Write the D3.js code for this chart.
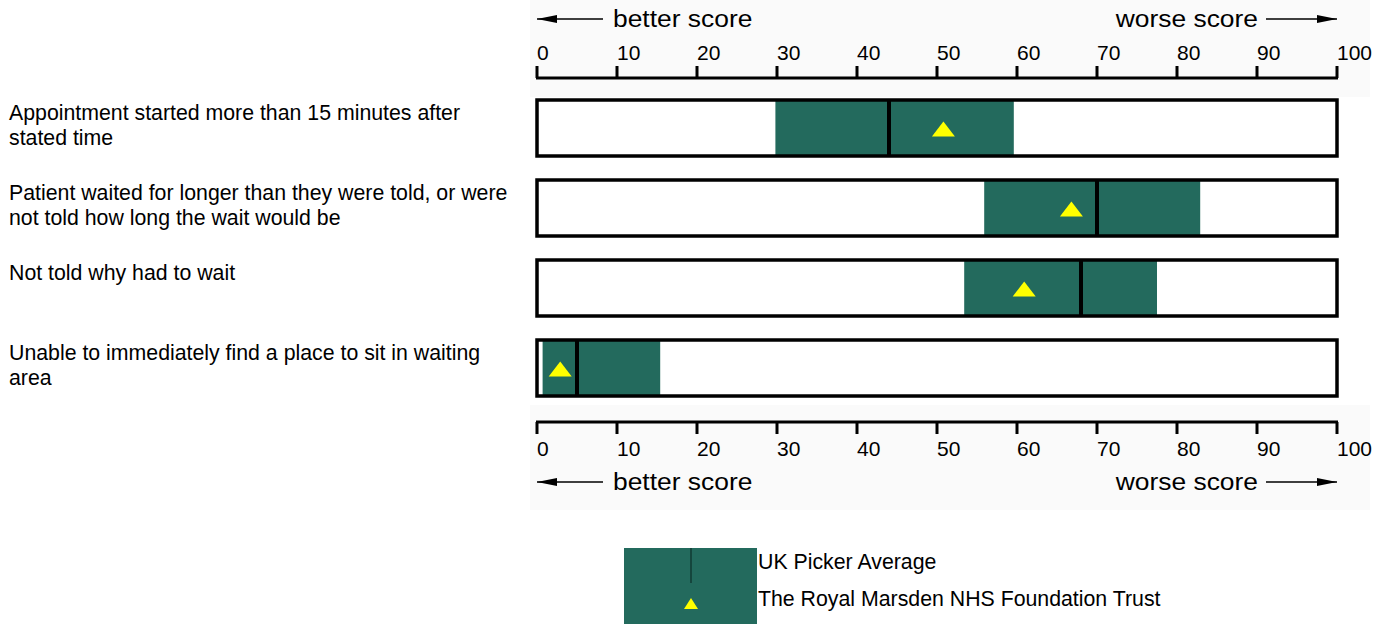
<!DOCTYPE html>
<html><head><meta charset="utf-8">
<script src="https://cdn.jsdelivr.net/npm/d3@7"></script>
<style>body{margin:0;background:#fff;}svg{display:block;font-family:"Liberation Sans",Arial,sans-serif;}</style>
</head><body><svg id="c" width="1393" height="624"></svg>
<script>
const categories = [
  ["Appointment started more than 15 minutes after", "stated time"],
  ["Patient waited for longer than they were told, or were", "not told how long the wait would be"],
  ["Not told why had to wait"],
  ["Unable to immediately find a place to sit in waiting", "area"]
];
const rangeLow  = [29.8, 55.9, 53.4, 0.7];
const rangeHigh = [59.6, 82.9, 77.5, 15.4];
const pickerAvg = [44.0, 70.0, 68.0, 5.0];
const trustScore = [50.8, 66.8, 60.9, 2.9];
const tickValues = [0,10,20,30,40,50,60,70,80,90,100];
const legendLabels = ["UK Picker Average", "The Royal Marsden NHS Foundation Trust"];

const svg = d3.select("#c");
const x = d3.scaleLinear().domain([0,100]).range([537,1337]);
const y = d3.scaleBand().domain(d3.range(categories.length)).range([100,396]).paddingInner(0.3).paddingOuter(0);
const green = "#236a5d";

svg.append("rect").attr("x",530).attr("y",0).attr("width",840).attr("height",97).attr("fill","#fafafa");
svg.append("rect").attr("x",530).attr("y",405).attr("width",840).attr("height",105).attr("fill","#fafafa");

const defs = svg.append("defs");
defs.append("marker").attr("id","ahs").attr("viewBox","0 0 20 8").attr("refX",20).attr("refY",4)
  .attr("markerWidth",20).attr("markerHeight",8).attr("markerUnits","userSpaceOnUse").attr("orient","auto")
  .append("path").attr("d","M0,0L20,4L0,8Z").attr("fill","#000");

function txt(parent, xPos, yPos, sx, size, str, anchor) {
  return parent.append("text")
    .attr("transform",`translate(${xPos},${yPos}) scale(${sx},1)`)
    .attr("font-size",size).attr("fill","#000").attr("text-anchor",anchor||"start").text(str);
}

function axisBlock(lineY, dir, labelY, textY) {
  const g = svg.append("g");
  g.append("line").attr("x1",x(0)-1).attr("x2",x(100)+1).attr("y1",lineY).attr("y2",lineY).attr("stroke","#000").attr("stroke-width",3);
  g.selectAll("line.t").data(tickValues).join("line").attr("class","t")
    .attr("x1",d=>x(d)).attr("x2",d=>x(d)).attr("y1",lineY).attr("y2",lineY+dir*12)
    .attr("stroke","#000").attr("stroke-width",3);
  g.selectAll("text.t").data(tickValues).join("text").attr("class","t")
    .attr("x",d=>x(d)).attr("y",labelY).attr("font-size",21).attr("fill","#000").text(d=>d);
  txt(g, 613, textY, 1.1, 24, "better score");
  g.append("line").attr("x1",603).attr("x2",537).attr("y1",textY-8).attr("y2",textY-8)
    .attr("stroke","#000").attr("stroke-width",1.5).attr("marker-end","url(#ahs)");
  txt(g, 1258, textY, 1.1, 24, "worse score", "end");
  g.append("line").attr("x1",1266).attr("x2",1337).attr("y1",textY-8).attr("y2",textY-8)
    .attr("stroke","#000").attr("stroke-width",1.5).attr("marker-end","url(#ahs)");
}
axisBlock(78, -1, 60, 27);
axisBlock(422, 1, 456, 490);

const rows = svg.selectAll("g.row").data(categories).join("g").attr("class","row");
rows.append("rect").attr("x",x(0)).attr("y",(d,i)=>y(i)).attr("width",x(100)-x(0)).attr("height",y.bandwidth())
  .attr("fill","#fff");
rows.append("rect").attr("x",(d,i)=>x(rangeLow[i])).attr("y",(d,i)=>y(i)).attr("width",(d,i)=>x(rangeHigh[i])-x(rangeLow[i]))
  .attr("height",y.bandwidth()).attr("fill",green);
rows.append("rect").attr("x",x(0)).attr("y",(d,i)=>y(i)).attr("width",x(100)-x(0)).attr("height",y.bandwidth())
  .attr("fill","none").attr("stroke","#000").attr("stroke-width",3.5);
rows.append("line").attr("x1",(d,i)=>x(pickerAvg[i])).attr("x2",(d,i)=>x(pickerAvg[i]))
  .attr("y1",(d,i)=>y(i)).attr("y2",(d,i)=>y(i)+y.bandwidth()).attr("stroke","#000").attr("stroke-width",4);
const tri = (cx, cy) => `M${cx-11.5},${cy+7.5}L${cx},${cy-7.5}L${cx+11.5},${cy+7.5}Z`;
rows.append("path").attr("d",(d,i)=>tri(x(trustScore[i]), y(i)+y.bandwidth()/2+1)).attr("fill","#ffff00");
rows.each(function(d,i){
  const g = d3.select(this);
  d.forEach((ln,j)=>txt(g, 9, y(i)+20+j*25, 1, 21.3, ln));
});

const lg = svg.append("g");
lg.append("rect").attr("x",624).attr("y",548).attr("width",133).attr("height",76).attr("fill",green);
lg.append("line").attr("x1",691).attr("x2",691).attr("y1",548).attr("y2",583).attr("stroke","#123b33").attr("stroke-width",1.5);
lg.append("path").attr("d",`M684,609L691,598L698,609Z`).attr("fill","#ffff00");
legendLabels.forEach((t,i)=>txt(lg, 758, 569+i*37, 1, 21.3, t));
</script></body></html>
